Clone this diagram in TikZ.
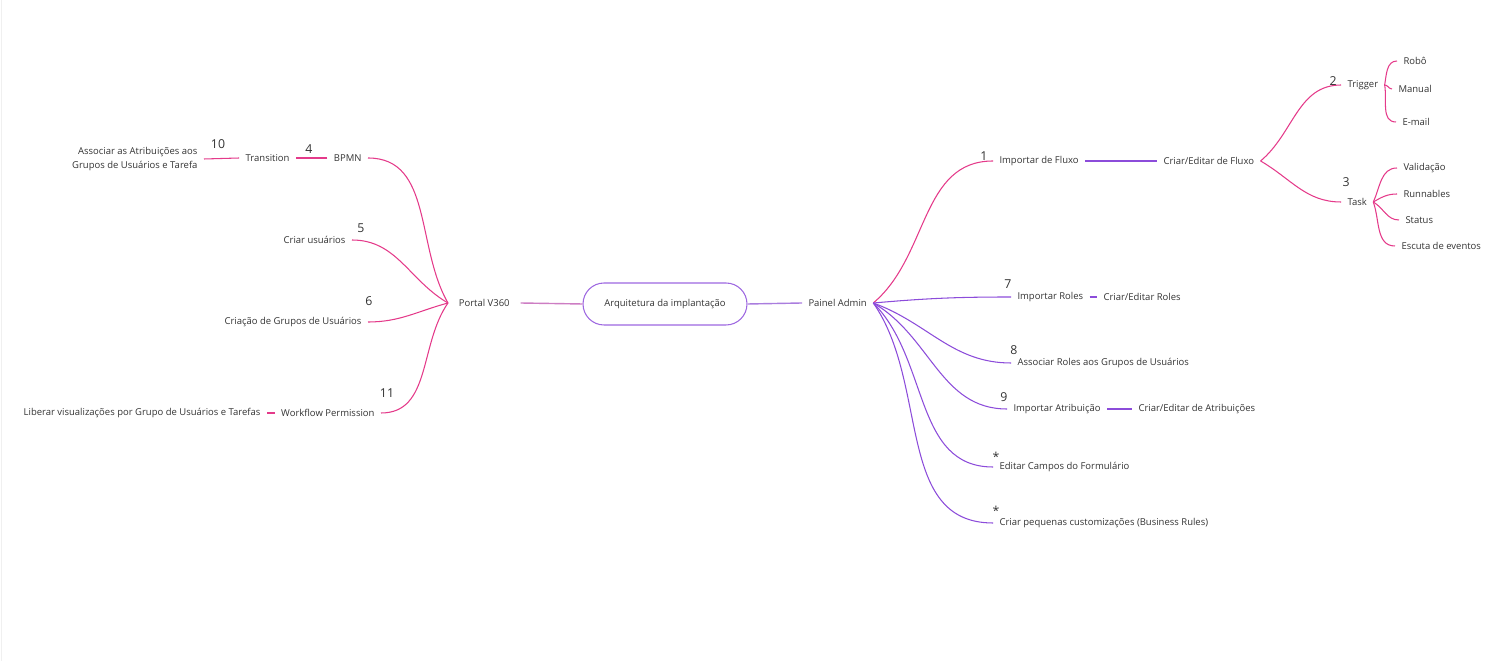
\documentclass[tikz,border=0pt]{standalone}
\usepackage{fontspec}
\setmainfont{Open Sans}
\usetikzlibrary{positioning}
\definecolor{mappink}{RGB}{228,58,138}
\definecolor{mappurple}{RGB}{140,76,218}
\definecolor{rootline}{RGB}{205,125,195}
\definecolor{adminline}{RGB}{170,125,222}

\begin{document}
\begin{tikzpicture}[x=0.02cm,y=-0.02cm,
 every node/.style={font=\fontsize{5.4}{7.9}\selectfont,text=black!80,inner xsep=3.5pt,inner ysep=1pt},
 root/.style={draw=mappurple!85,line width=0.6pt,rounded corners=0.42cm,minimum width=3.28cm,minimum height=0.84cm},
 num/.style={font=\fontsize{7}{8}\selectfont,inner sep=0pt},
 pk/.style={mappink,line width=0.6pt},
 pp/.style={mappurple,line width=0.6pt}]
\useasboundingbox (0,0) rectangle (1511,661);
\draw[black!6] (1,0)--(1,661);
% centre
\node[root](arq)at(665,304){Arquitetura da implantação};
\node[inner xsep=6pt,anchor=west](portal)at(448,303){Portal V360};
\node[anchor=west](painel)at(802,303){Painel Admin};
\draw[rootline,line width=0.8pt](arq.west)--(portal.east);
\draw[adminline,line width=0.8pt](arq.east)--(painel.west);
% Portal V360
\node[anchor=east](bpmn)at(368,158){BPMN};
\node[anchor=east](transition)at(296,158){Transition};
\node[anchor=east,align=right](assocatrib)at(204,159){Associar as Atribuições aos\\Grupos de Usuários e Tarefa};
\node[anchor=east](criarusu)at(352,240){Criar usuários};
\node[anchor=east](criacaogrp)at(368,322){Criação de Grupos de Usuários};
\node[anchor=east](workflow)at(381,413){Workflow Permission};
\node[anchor=east](liberar)at(267,413){Liberar visualizações por Grupo de Usuários e Tarefas};
\draw[pk](portal.west)to[out=120,in=0](bpmn.east);
\draw[pk](portal.west)to[out=150,in=0](criarusu.east);
\draw[pk](portal.west)to[out=195,in=0](criacaogrp.east);
\draw[pk](portal.west)to[out=235,in=0](workflow.east);
\draw[pk](bpmn.west)--(transition.east);\draw[pk](transition.west)--(assocatrib.east);
\draw[pk](workflow.west)--(liberar.east);
\node[num](n10)at(218,144){10};\node[num](n4)at(309,149){4};
\node[num](n5)at(361,228){5};\node[num](n6)at(369,301){6};
\node[num](n11)at(387,393){11};
% Painel Admin
\node[anchor=west](fluxo)at(993,161){Importar de Fluxo};
\node[anchor=west](editfluxo)at(1157,161){Criar/Editar de Fluxo};
\node[anchor=west](trigger)at(1341,85){Trigger};
\node[anchor=west](robo)at(1397,61){Robô};
\node[anchor=west](manual)at(1392,89){Manual};
\node[anchor=west](email)at(1396,122){E-mail};
\node[anchor=west](task)at(1341,202){Task};
\node[anchor=west](validacao)at(1397,168){Validação};
\node[anchor=west](runnables)at(1397,194){Runnables};
\node[anchor=west](status)at(1399,220){Status};
\node[anchor=west](escuta)at(1395,246){Escuta de eventos};
\node[anchor=west](roles)at(1011,297){Importar Roles};
\node[anchor=west](editroles)at(1097,297){Criar/Editar Roles};
\node[anchor=west](assocroles)at(1011,363){Associar Roles aos Grupos de Usuários};
\node[anchor=west](atrib)at(1007,409){Importar Atribuição};
\node[anchor=west](editatrib)at(1132,409){Criar/Editar de Atribuições};
\node[anchor=west](campos)at(993,467){Editar Campos do Formulário};
\node[anchor=west](custom)at(993,523){Criar pequenas customizações (Business Rules)};
\draw[pk](painel.east)to[out=40,in=180](fluxo.west);
\draw[pp](painel.east)to[out=5,in=180](roles.west);
\draw[pp](painel.east)to[out=-20,in=180](assocroles.west);
\draw[pp](painel.east)to[out=-30,in=180](atrib.west);
\draw[pp](painel.east)to[out=-45,in=180](campos.west);
\draw[pp](painel.east)to[out=-55,in=180](custom.west);
\draw[pp,line width=1.1pt](fluxo.east)--(editfluxo.west);
\draw[pp](roles.east)--(editroles.west);\draw[pp](atrib.east)--(editatrib.west);
\draw[pk](editfluxo.east)to[out=40,in=180](trigger.west);
\draw[pk](editfluxo.east)to[out=-30,in=180](task.west);
\draw[pk](trigger.east)to[out=80,in=180](robo.west);
\draw[pk](trigger.east)to[out=0,in=180](manual.west);
\draw[pk](trigger.east)to[out=-80,in=180](email.west);
\draw[pk](task.east)to[out=65,in=180](validacao.west);
\draw[pk](task.east)to[out=30,in=180](runnables.west);
\draw[pk](task.east)to[out=-30,in=180](status.west);
\draw[pk](task.east)to[out=-70,in=180](escuta.west);
\node[num](n1)at(984,156){1};\node[num](n2)at(1333,81){2};
\node[num](n3)at(1346,182){3};\node[num](n7)at(1008,284){7};
\node[num](n8)at(1014,350){8};\node[num](n9)at(1004,397){9};
\node[num](s1)at(996,457){*};\node[num](s2)at(996,511){*};
\end{tikzpicture}
\end{document}
